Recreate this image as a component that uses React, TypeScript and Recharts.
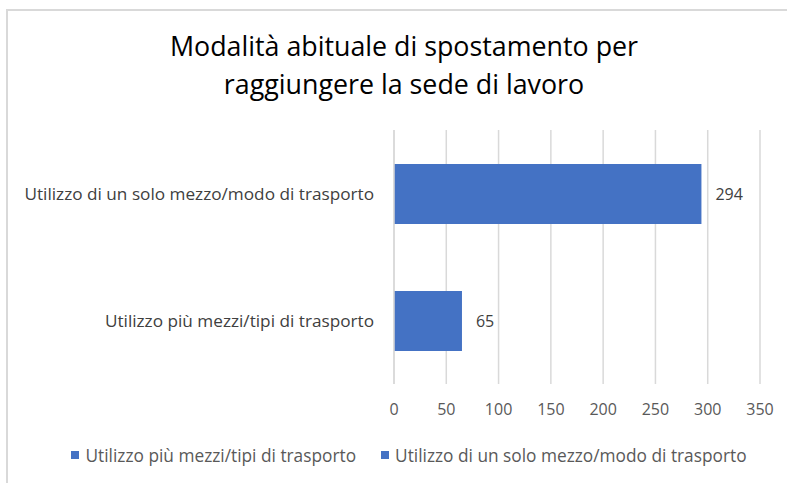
import * as React from 'react';
import {
  Bar,
  BarChart,
  CartesianGrid,
  LabelList,
  Legend,
  XAxis,
  YAxis,
} from 'recharts';

// Excel order: first category is drawn at the bottom
const categories = [
  'Utilizzo più mezzi/tipi di trasporto',
  'Utilizzo di un solo mezzo/modo di trasporto',
];
const counts = [65, 294];
const xTicks = [0, 50, 100, 150, 200, 250, 300, 350];
const frameTicks = [0, 1, 2];
const titleLines = ['Modalità abituale di spostamento per', 'raggiungere la sede di lavoro'];

const FONT = '"Open Sans", Lato, sans-serif';
const BLUE = '#4472C4';
const GRID = '#d9d9d9';

const data = categories.map((name, i) => ({ name, value: counts[i] }));

function LegendBox() {
  return (
    <div
      style={{
        display: 'flex',
        justifyContent: 'center',
        alignItems: 'center',
        height: 30,
        fontFamily: FONT,
        fontSize: 17.3,
        color: '#595959',
        gap: 25,
        paddingLeft: 58,
      }}
    >
      {categories.map((c) => (
        <span key={c} style={{ display: 'flex', alignItems: 'center' }}>
          <span style={{ width: 8, height: 8, background: BLUE, marginRight: 6, display: 'inline-block' }} />
          {c}
        </span>
      ))}
    </div>
  );
}

export default function App() {
  return (
    <div style={{ position: 'fixed', left: 0, top: 0, width: 787, height: 483, background: '#fff', overflow: 'hidden' }}>
      <div
        style={{
          position: 'absolute',
          left: 6,
          top: 9,
          width: 820,
          height: 520,
          border: `2px solid ${GRID}`,
        }}
      />
      <div
        style={{
          position: 'absolute',
          left: 7,
          width: 794,
          top: 27,
          textAlign: 'center',
          fontFamily: FONT,
          fontSize: 26.8,
          lineHeight: '38px',
          color: '#000',
        }}
      >
        {titleLines.map((t) => (
          <div key={t}>{t}</div>
        ))}
      </div>
      <div style={{ position: 'absolute', left: 0, top: 0 }}>
        <BarChart
          width={787}
          height={483}
          layout="vertical"
          data={data}
          margin={{ top: 130, right: 27, left: 0, bottom: 13 }}
        >
          <CartesianGrid horizontal={false} stroke={GRID} strokeWidth={1.5} yAxisId="categories" />
          <XAxis
            type="number"
            domain={[0, 350]}
            ticks={xTicks}
            axisLine={false}
            tickLine={false}
            height={56}
            tickMargin={14}
            tick={{ fill: '#595959', fontSize: 16, fontFamily: FONT }}
          />
          <YAxis
            yAxisId="axisLine"
            type="number"
            domain={[0, 2]}
            ticks={frameTicks}
            width={7}
            tick={false}
            tickSize={7}
            stroke={GRID}
            strokeWidth={1.5}
          />
          <YAxis
            yAxisId="categories"
            type="category"
            dataKey="name"
            reversed
            width={387}
            axisLine={false}
            tickLine={false}
            tickSize={0}
            tickMargin={13}
            tick={{ fill: '#404040', fontSize: 17.2, fontFamily: FONT }}
          />
          <Legend verticalAlign="bottom" content={() => <LegendBox />} />
          <Bar yAxisId="categories" dataKey="value" fill={BLUE} barSize={60} isAnimationActive={false}>
            <LabelList
              dataKey="value"
              position="right"
              offset={14}
              fill="#404040"
              fontSize={16}
              fontFamily={FONT}
            />
          </Bar>
        </BarChart>
      </div>
    </div>
  );
}
